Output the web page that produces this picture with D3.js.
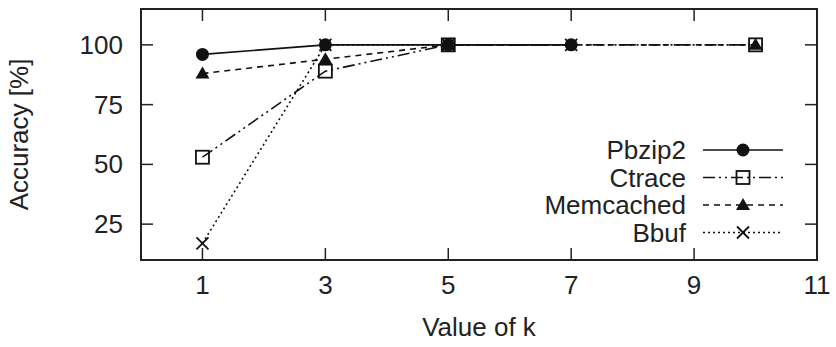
<!DOCTYPE html>
<html>
<head>
<meta charset="utf-8">
<script src="https://cdn.jsdelivr.net/npm/d3@7"></script>
<style>
  body { margin: 0; background: #fff; }
  text { font-family: "Liberation Sans", Arial, Helvetica, sans-serif; fill: #222; }
</style>
</head>
<body>
<svg id="chart"></svg>
<script>
const width = 836;
const height = 347;
const margin = { top: 9, right: 19, bottom: 87, left: 141 };

const xTicks = [1, 3, 5, 7, 9, 11];
const yTicks = [25, 50, 75, 100];

const seriesNames = ['Pbzip2', 'Ctrace', 'Memcached', 'Bbuf'];
const pbzip2K = [1, 3, 5, 7];
const pbzip2Acc = [96, 100, 100, 100];
const ctraceK = [1, 3, 5, 10];
const ctraceAcc = [53, 89, 100, 100];
const memcachedK = [1, 3, 5, 10];
const memcachedAcc = [88, 94, 100, 100];
const bbufK = [1, 3, 5, 7];
const bbufAcc = [17, 100, 100, 100];

const series = [
  { name: 'Pbzip2', k: pbzip2K, acc: pbzip2Acc, dash: null, marker: 'circle' },
  { name: 'Ctrace', k: ctraceK, acc: ctraceAcc, dash: '12,4,2,4,2,4', marker: 'square' },
  { name: 'Memcached', k: memcachedK, acc: memcachedAcc, dash: '6,5', marker: 'triangle' },
  { name: 'Bbuf', k: bbufK, acc: bbufAcc, dash: '2,3', marker: 'cross' }
];

const w = width - margin.left - margin.right;
const h = height - margin.top - margin.bottom;

const svg = d3.select('#chart')
              .attr('width', width)
              .attr('height', height)
              .append('g')
              .attr('transform', `translate(${margin.left}, ${margin.top})`);

const x = d3.scaleLinear().domain([0, 11]).range([0, w]);
const y = d3.scaleLinear().domain([10, 115]).range([h, 0]);

// ticks on all four sides, pointing inward
const tickLen = 12;
const ticks = svg.append('g').attr('stroke', '#222').attr('stroke-width', 1.5);
xTicks.forEach(t => {
  ticks.append('line').attr('x1', x(t)).attr('x2', x(t)).attr('y1', h).attr('y2', h - tickLen);
  ticks.append('line').attr('x1', x(t)).attr('x2', x(t)).attr('y1', 0).attr('y2', tickLen);
});
yTicks.forEach(t => {
  ticks.append('line').attr('x1', 0).attr('x2', tickLen).attr('y1', y(t)).attr('y2', y(t));
  ticks.append('line').attr('x1', w).attr('x2', w - tickLen).attr('y1', y(t)).attr('y2', y(t));
});

svg.append('g')
   .selectAll('text')
   .data(xTicks)
   .enter()
   .append('text')
   .attr('x', d => x(d))
   .attr('y', h + 34)
   .attr('text-anchor', 'middle')
   .attr('font-size', 26)
   .text(d => d);

svg.append('g')
   .selectAll('text')
   .data(yTicks)
   .enter()
   .append('text')
   .attr('x', -18)
   .attr('y', d => y(d) + 9)
   .attr('text-anchor', 'end')
   .attr('font-size', 26)
   .text(d => d);

svg.append('text')
   .attr('x', w / 2)
   .attr('y', h + 76)
   .attr('text-anchor', 'middle')
   .attr('font-size', 26)
   .text('Value of k');

svg.append('text')
   .attr('transform', `translate(${-113}, ${h / 2}) rotate(-90)`)
   .attr('text-anchor', 'middle')
   .attr('font-size', 26)
   .text('Accuracy [%]');

function drawMarker(g, type, cx, cy) {
  if (type === 'circle') {
    g.append('circle').attr('cx', cx).attr('cy', cy).attr('r', 6.5).attr('fill', '#111');
  } else if (type === 'square') {
    g.append('rect').attr('x', cx - 6.5).attr('y', cy - 6.5).attr('width', 13).attr('height', 13)
     .attr('fill', 'none').attr('stroke', '#111').attr('stroke-width', 1.8);
  } else if (type === 'triangle') {
    g.append('path').attr('d', `M${cx},${cy - 7}L${cx + 7},${cy + 5}L${cx - 7},${cy + 5}Z`).attr('fill', '#111');
  } else {
    g.append('path').attr('d', `M${cx - 6},${cy - 6}L${cx + 6},${cy + 6}M${cx - 6},${cy + 6}L${cx + 6},${cy - 6}`)
     .attr('stroke', '#111').attr('stroke-width', 1.8);
  }
}

const line = d3.line().x(d => x(d[0])).y(d => y(d[1]));

series.forEach(s => {
  const pts = s.k.map((k, i) => [k, s.acc[i]]);
  svg.append('path')
     .datum(pts)
     .attr('d', line)
     .attr('fill', 'none')
     .attr('stroke', '#111')
     .attr('stroke-width', 1.6)
     .attr('stroke-dasharray', s.dash);
  const g = svg.append('g');
  pts.forEach(p => drawMarker(g, s.marker, x(p[0]), y(p[1])));
});

// legend
const legend = svg.append('g');
series.forEach((s, i) => {
  const ly = 141 + i * 27.5;
  legend.append('text')
        .attr('x', 545)
        .attr('y', ly + 9)
        .attr('text-anchor', 'end')
        .attr('font-size', 26)
        .text(s.name);
  legend.append('line')
        .attr('x1', 562).attr('x2', 642)
        .attr('y1', ly).attr('y2', ly)
        .attr('stroke', '#111')
        .attr('stroke-width', 1.6)
        .attr('stroke-dasharray', s.dash);
  drawMarker(legend, s.marker, 602, ly);
});

// frame
svg.append('rect')
   .attr('width', w)
   .attr('height', h)
   .attr('fill', 'none')
   .attr('stroke', '#222')
   .attr('stroke-width', 2);
</script>
</body>
</html>
